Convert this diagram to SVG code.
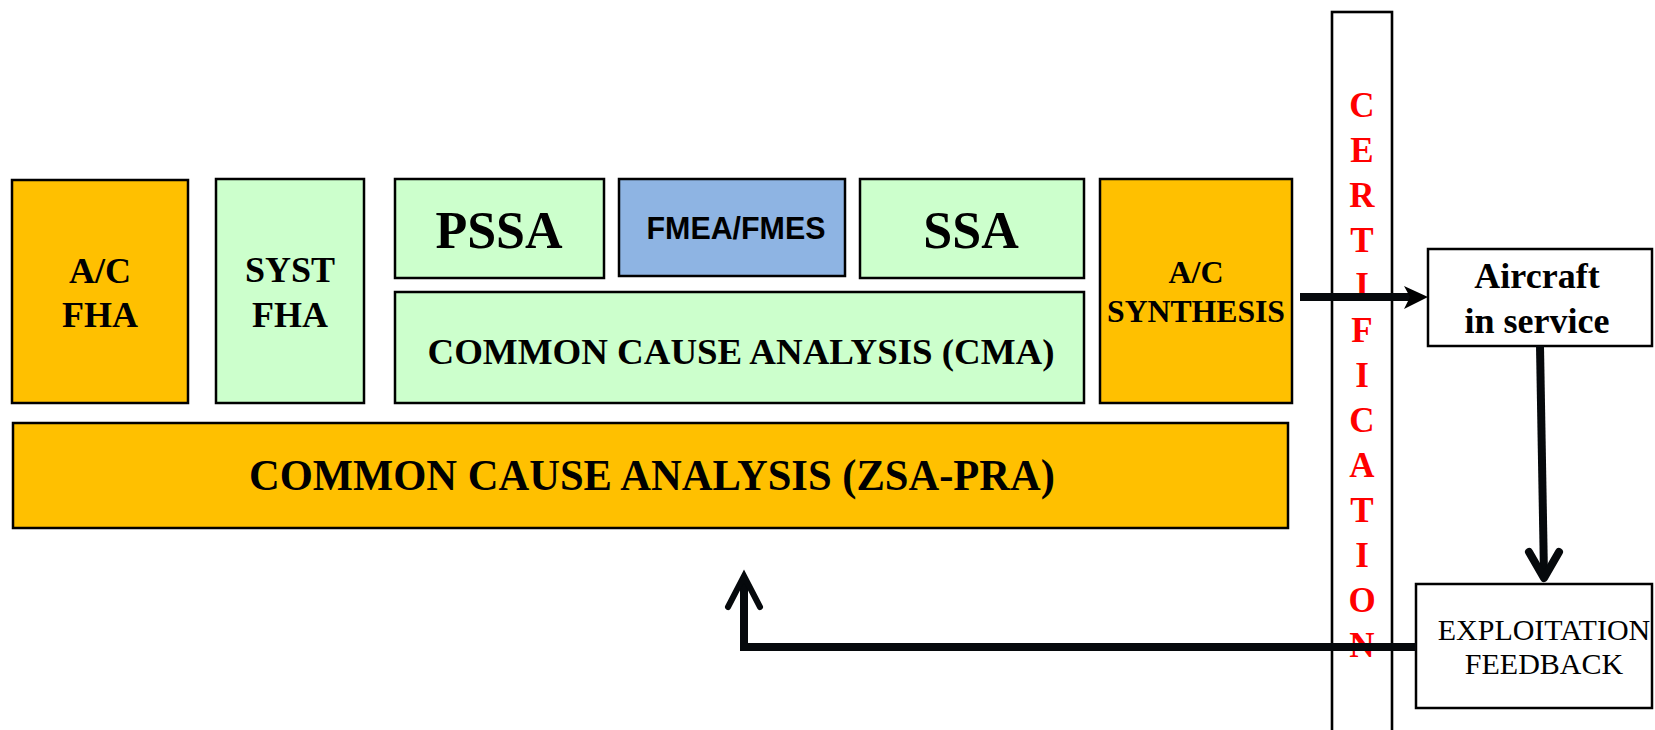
<svg xmlns="http://www.w3.org/2000/svg" width="1655" height="730" viewBox="0 0 1655 730">
<defs>
<style>
.box{stroke:#000;stroke-width:2.5}
.or{fill:#FFC000}
.gr{fill:#CCFFCC}
.bl{fill:#8EB4E3}
.wh{fill:#fff}
.tb{font-family:"Liberation Serif","Times New Roman",serif;font-weight:bold;fill:#000;text-anchor:middle}
.tr{font-family:"Liberation Serif","Times New Roman",serif;fill:#000;text-anchor:middle}
.ts{font-family:"Liberation Sans",Arial,sans-serif;font-weight:bold;fill:#000;text-anchor:middle}
.cert{font-family:"Liberation Serif","Times New Roman",serif;font-weight:bold;fill:#FF0000;text-anchor:middle;font-size:35px}
.conn{fill:none;stroke:#06090c;stroke-width:8}
</style>
</defs>
<rect width="1655" height="730" fill="#fff"/>

<g id="certification">
<rect x="1332" y="12" width="60" height="730" fill="#fff" stroke="#000" stroke-width="2.6"/>
<text class="cert" x="1362" y="117">C</text>
<text class="cert" x="1362" y="162">E</text>
<text class="cert" x="1362" y="207">R</text>
<text class="cert" x="1362" y="252">T</text>
<text class="cert" x="1362" y="297">I</text>
<text class="cert" x="1362" y="342">F</text>
<text class="cert" x="1362" y="387">I</text>
<text class="cert" x="1362" y="432">C</text>
<text class="cert" x="1362" y="477">A</text>
<text class="cert" x="1362" y="522">T</text>
<text class="cert" x="1362" y="567">I</text>
<text class="cert" x="1362" y="612">O</text>
<text class="cert" x="1362" y="657">N</text>
</g>

<g id="ac-fha">
<rect class="box or" x="12" y="180" width="176" height="223"/>
<text class="tb" x="100" y="283" font-size="36">A/C</text>
<text class="tb" x="100" y="327" font-size="36">FHA</text>
</g>

<g id="syst-fha">
<rect class="box gr" x="216" y="179" width="148" height="224"/>
<text class="tb" x="290" y="282" font-size="36">SYST</text>
<text class="tb" x="290" y="327" font-size="36">FHA</text>
</g>

<g id="pssa">
<rect class="box gr" x="395" y="179" width="209" height="99"/>
<text class="tb" x="499" y="248" font-size="52">PSSA</text>
</g>

<g id="fmea">
<rect class="box bl" x="619" y="179" width="226" height="97"/>
<text class="ts" x="736" y="239" font-size="31" textLength="179" lengthAdjust="spacingAndGlyphs">FMEA/FMES</text>
</g>

<g id="ssa">
<rect class="box gr" x="860" y="179" width="224" height="99"/>
<text class="tb" x="971" y="248" font-size="52">SSA</text>
</g>

<g id="cma">
<rect class="box gr" x="395" y="292" width="689" height="111"/>
<text class="tb" x="741" y="364" font-size="36" textLength="627" lengthAdjust="spacingAndGlyphs">COMMON CAUSE ANALYSIS (CMA)</text>
</g>

<g id="ac-synthesis">
<rect class="box or" x="1100" y="179" width="192" height="224"/>
<text class="tb" x="1196" y="283" font-size="32">A/C</text>
<text class="tb" x="1196" y="322" font-size="32" textLength="178" lengthAdjust="spacingAndGlyphs">SYNTHESIS</text>
</g>

<g id="zsa-pra">
<rect class="box or" x="13" y="423" width="1275" height="105"/>
<text class="tb" x="652" y="490" font-size="44" textLength="806" lengthAdjust="spacingAndGlyphs">COMMON CAUSE ANALYSIS (ZSA-PRA)</text>
</g>

<g id="aircraft">
<rect class="box wh" x="1428" y="249" width="224" height="97"/>
<text class="tb" x="1537" y="288" font-size="36">Aircraft</text>
<text class="tb" x="1537" y="333" font-size="36">in service</text>
</g>

<g id="exploitation">
<rect class="box wh" x="1416" y="584" width="236" height="124"/>
<text class="tr" x="1544" y="640" font-size="30">EXPLOITATION</text>
<text class="tr" x="1544" y="674" font-size="30">FEEDBACK</text>
</g>

<g id="connectors">
<line class="conn" x1="1300" y1="297" x2="1412" y2="297"/>
<polygon points="1428,297 1404,286 1410,297 1404,309" fill="#000"/>
<polyline class="conn" points="1540,346 1544,576"/>
<polyline class="conn" points="1529,552 1544,578 1559,552" stroke-linecap="round" stroke-linejoin="round"/>
<polyline class="conn" points="1416,647 744,647 744,578"/>
<polyline points="728,607 744,576 760,607" fill="none" stroke="#06090c" stroke-width="6" stroke-linecap="round" stroke-linejoin="miter"/>
</g>
</svg>
